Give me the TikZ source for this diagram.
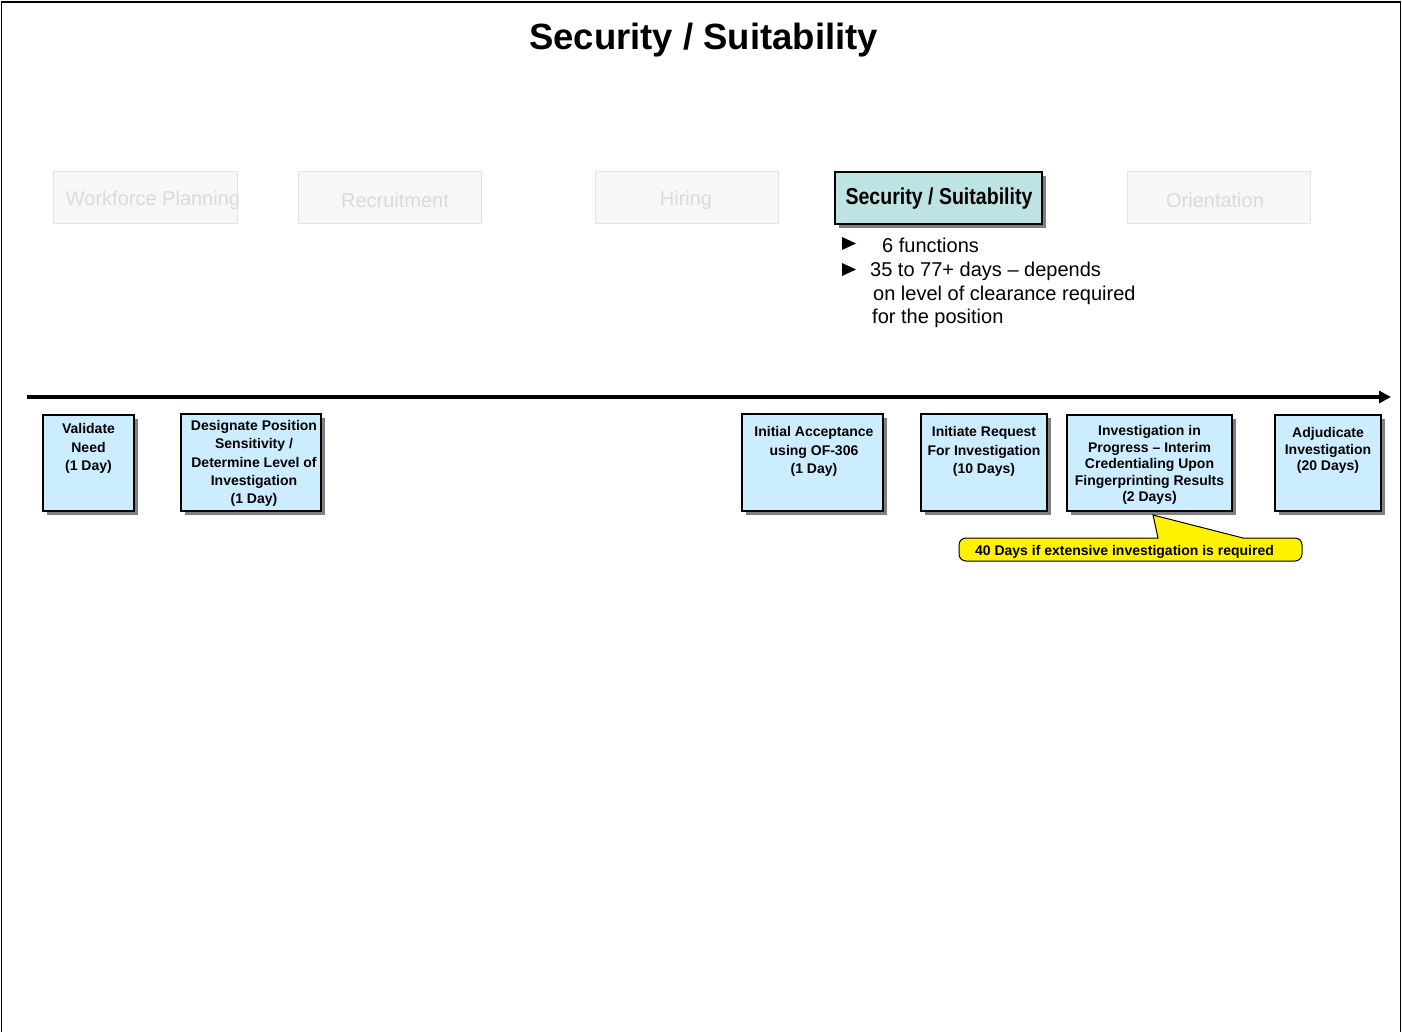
\documentclass[tikz,border=0pt]{standalone}
\usepackage{fontspec}
\setmainfont{Liberation Sans}
\usetikzlibrary{arrows.meta,shadows}
\definecolor{ghostfill}{RGB}{247,247,247}
\definecolor{ghostline}{RGB}{228,228,228}
\definecolor{ghosttext}{RGB}{218,218,218}
\definecolor{tealfill}{RGB}{189,227,227}
\definecolor{bluefill}{RGB}{204,236,255}
\definecolor{shadowgray}{RGB}{128,128,128}
\tikzset{
  ghostbox/.style={draw=ghostline, line width=1pt, fill=ghostfill, minimum height=52pt, inner sep=0pt},
  ghosttxt/.style={text=ghosttext, font=\fontsize{20}{23}\selectfont, inner sep=0pt},
  stepbox/.style={draw=black, line width=1.3pt, fill=bluefill, inner sep=0pt,
     drop shadow={shadow xshift=4pt, shadow yshift=-4pt, fill=shadowgray, opacity=1}},
  steptxt/.style={font=\bfseries\fontsize{14}{18.3}\selectfont, align=center, inner sep=0pt},
  steptxttight/.style={font=\bfseries\fontsize{14}{16.5}\selectfont, align=center, inner sep=0pt},
  bullettxt/.style={font=\fontsize{20}{23.5}\selectfont, align=left, inner sep=0pt, anchor=west},
  bul/.style={fill=black, draw=none},
}
\begin{document}
\begin{tikzpicture}[x=1pt,y=-1pt]
\useasboundingbox (0,0) rectangle (1402,1032);
% outer frame
\draw[line width=1.6pt, black] (1.5,1040) -- (1.5,2) -- (1400.5,2) -- (1400.5,1040);

% title
\node[font=\bfseries\fontsize{36.5}{40}\selectfont, inner sep=0pt] (title) at (703.5,40.5) {Security / Suitability};

% phase boxes
\node[ghostbox, minimum width=184pt] (wfp) at (145,198) {};
\node[ghosttxt] (wfpt) at (153,200.5) {Workforce Planning};
\node[ghostbox, minimum width=183pt] (rec) at (389.5,198) {};
\node[ghosttxt] (rect) at (395,200.5) {Recruitment};
\node[ghostbox, minimum width=183pt] (hir) at (686.5,198) {};
\node[ghosttxt] (hirt) at (686,200.5) {Hiring};
\node[ghostbox, minimum width=183pt] (ori) at (1218.5,198) {};
\node[ghosttxt] (orit) at (1215,200.5) {Orientation};

\node[draw=black, line width=1.3pt, fill=tealfill, minimum width=207pt, minimum height=52pt, inner sep=0pt,
      drop shadow={shadow xshift=4pt, shadow yshift=-4pt, fill=shadowgray, opacity=1}] (sec) at (938.5,198) {};
\node[inner sep=0pt, font=\bfseries\fontsize{23}{26}\selectfont] (sect) at (939,199) {\scalebox{0.85}[1]{Security / Suitability}};

% bullets
\fill[bul] (842,237) -- (856,243.5) -- (842,250) -- cycle;
\fill[bul] (842,263) -- (856,269.5) -- (842,276) -- cycle;
\node[bullettxt] (b1) at (882,245) {6 functions};
\node[bullettxt] (b2) at (870,271.5) {35 to 77+ days -- depends};
\node[bullettxt] (b3) at (873,295.5) {on level of clearance required};
\node[bullettxt] (b4) at (872,318.5) {for the position};

% timeline
\coordinate (tl0) at (27,397);
\coordinate (tl1) at (1391,397);
\draw[line width=3.4pt, -{Triangle[length=12pt,width=12pt]}] (tl0) -- (tl1);

% steps
\node[stepbox, minimum width=91pt, minimum height=96pt] (s1) at (88.5,463) {};
\node[steptxt] (s1t) at (88.5,448.5) {Validate\\Need\\(1 Day)};

\node[stepbox, minimum width=140pt, minimum height=97pt] (s2) at (251,462.5) {};
\node[steptxt] (s2t) at (254,463.5) {Designate Position\\Sensitivity /\\Determine Level of\\Investigation\\(1 Day)};

\node[stepbox, minimum width=141pt, minimum height=97pt] (s3) at (812.5,462.5) {};
\node[steptxt] (s3t) at (814,451.5) {Initial Acceptance\\using OF-306\\(1 Day)};

\node[stepbox, minimum width=126pt, minimum height=97pt] (s4) at (984,462.5) {};
\node[steptxt] (s4t) at (984,451.5) {Initiate Request\\For Investigation\\(10 Days)};

\node[stepbox, minimum width=165pt, minimum height=96pt] (s5) at (1149.5,463) {};
\node[steptxttight] (s5t) at (1149.5,465) {Investigation in\\Progress -- Interim\\Credentialing Upon\\Fingerprinting Results\\(2 Days)};

\node[stepbox, minimum width=106pt, minimum height=96pt] (s6) at (1328,463) {};
\node[steptxttight] (s6t) at (1328,450.5) {Adjudicate\\Investigation\\(20 Days)};

% callout
\draw[line width=1pt, fill=yellow] (1153,515) -- (1243,538) [rounded corners=7pt] -- (1302,538) -- (1302,561) -- (959,561) -- (959,538) [sharp corners] -- (1158,538) -- cycle;
\node[font=\bfseries\fontsize{14}{16}\selectfont, inner sep=0pt] (callt) at (1124.5,551.5) {40 Days if extensive investigation is required};
\end{tikzpicture}
\end{document}
